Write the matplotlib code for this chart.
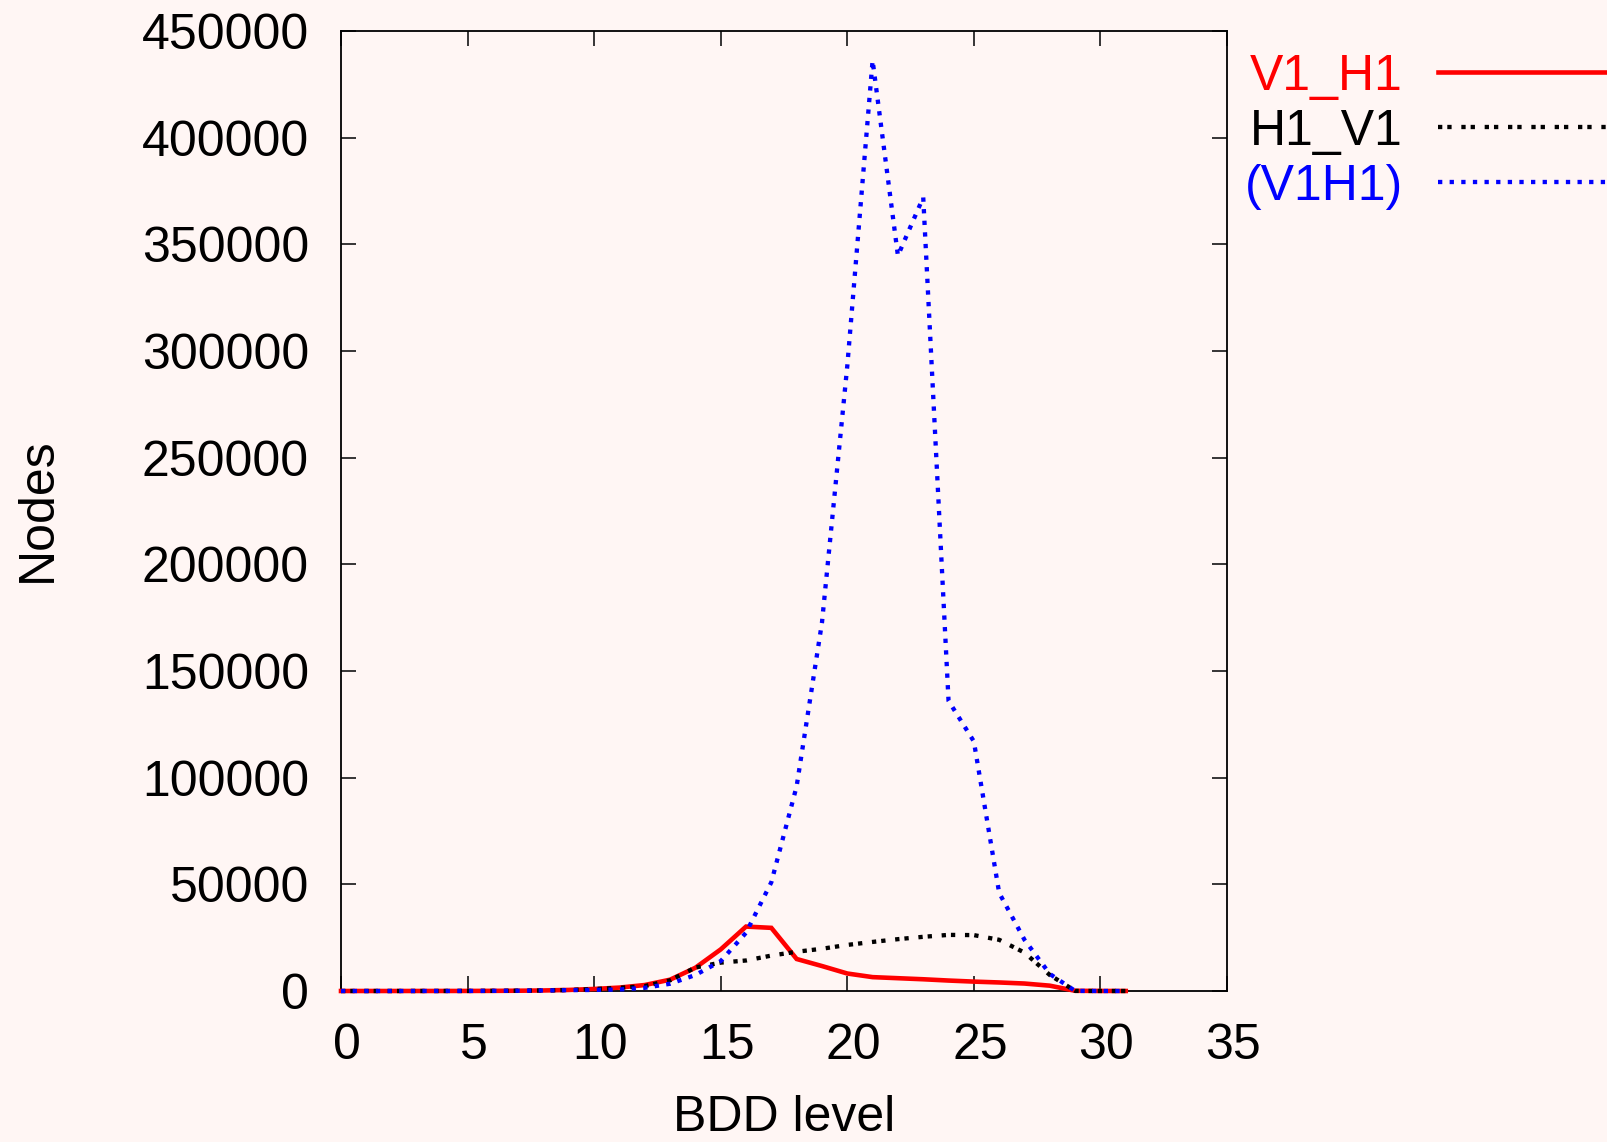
"""BDD level vs node count for three variable orderings (gnuplot-style)."""
import matplotlib
matplotlib.use("Agg")
import matplotlib.pyplot as plt
import matplotlib.transforms as mtrans
from matplotlib.lines import Line2D

levels = list(range(32))

v1_h1 = [1, 2, 4, 8, 16, 32, 64, 128, 250, 500,
         950, 1600, 2800, 5300, 10900, 19500, 30200, 29600, 15000, 11700,
         8200, 6500, 6000, 5500, 4900, 4400, 4000, 3500, 2500, 100,
         20, 2]
h1_v1 = [1, 2, 4, 8, 16, 32, 64, 128, 250, 480,
         900, 1500, 2300, 5000, 11000, 13300, 14300, 16600, 18400, 19800,
         21600, 23000, 24300, 25400, 26300, 26200, 24000, 18000, 7500, 50,
         10, 2]
v1h1 = [1, 2, 4, 8, 16, 32, 64, 128, 250, 400,
        500, 700, 1500, 3400, 7500, 14000, 27300, 51000, 96000, 172700,
        293000, 436200, 344700, 372000, 136000, 117000, 46000, 24000, 8000, 50,
        10, 2]

series_names = ["V1_H1", "H1_V1", "(V1H1)"]
series_colors = ["#ff0000", "#000000", "#0000ff"]

xticks = list(range(0, 36, 5))
yticks = list(range(0, 450001, 50000))

BG = "#fff6f4"
W, H = 1608, 1142

plt.rcParams["font.family"] = ["Liberation Sans", "DejaVu Sans"]

fig = plt.figure(figsize=(W / 100, H / 100), dpi=100, facecolor=BG)
ax = fig.add_axes([341 / W, 1 - 991 / H, (1227 - 341) / W, (991 - 31) / H])
ax.set_facecolor(BG)

styles = [
    dict(lw=3.3, ls="-"),
    dict(lw=3.1, ls=(0, (1, 1.16, 1, 2.26))),
    dict(lw=3.1, ls=(0, (1, 1.7))),
]
for vals, name, col, st in zip([v1_h1, h1_v1, v1h1], series_names, series_colors, styles):
    ax.plot(levels, vals, color=col, dash_capstyle="butt", solid_joinstyle="miter",
            clip_on=False, **st)

ax.set_xlim(0, 35)
ax.set_ylim(0, 450000)
ax.set_xticks(xticks)
ax.set_yticks(yticks)
ax.set_xticklabels([str(t) for t in xticks])
ax.set_yticklabels([str(t) for t in yticks])
ax.tick_params(direction="in", length=11, width=1.1, top=True, right=True,
               labelsize=36, colors="black")
ax.tick_params(axis="y", pad=23)
ax.tick_params(axis="x", pad=23)
# gnuplot puts the x labels a few pixels right of the tick
shift = mtrans.ScaledTranslation(6 / 100, 0, fig.dpi_scale_trans)
for lab in ax.get_xticklabels():
    lab.set_transform(lab.get_transform() + shift)
for sp in ax.spines.values():
    sp.set_linewidth(1.3)
    sp.set_zorder(0)

fig.text(784 / W, 1 - 1131 / H, "BDD level", ha="center", va="baseline", fontsize=36)
fig.text(38 / W, 1 - 510 / H, "Nodes", ha="center", va="center", rotation=90, fontsize=36)

# key, drawn by hand so the samples run to the figure edge like gnuplot
baselines = [90, 145, 200]
for name, col, st, base in zip(series_names, series_colors, styles, baselines):
    fig.text(1403 / W, 1 - base / H, name, ha="right", va="baseline", fontsize=36, color=col)
    ymid = 1 - (base - 18) / H
    fig.add_artist(Line2D([1438 / W, 1.0], [ymid, ymid], color=col,
                          dash_capstyle="butt", transform=fig.transFigure, **st))

fig.savefig("out.png", dpi=100, facecolor=BG)
